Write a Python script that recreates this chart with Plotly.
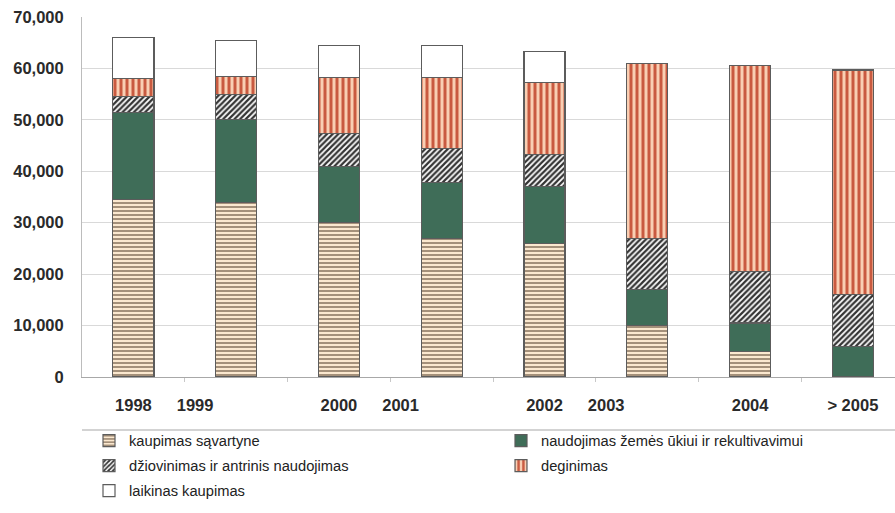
import plotly.graph_objects as go

# Sludge handling volumes per period (stacked components)
periods = ["1998", "1999", "2000", "2001", "2002", "2003", "2004", "> 2005"]
tick_labels = ["1998", "1999", "2000", "2001", "2002", "2003", "2004", "> 2005"]

kaupimas_savartyne = [34500, 34000, 30000, 27000, 26000, 10000, 5000, 0]
naudojimas_zemes_ukiui = [17000, 16000, 11000, 10800, 11000, 7000, 5500, 6000]
dziovinimas = [3000, 5000, 6300, 6700, 6300, 10000, 10000, 10000]
deginimas = [3500, 3500, 11000, 13800, 14000, 34000, 40000, 43700]
laikinas_kaupimas = [8000, 7000, 6200, 6200, 6000, 0, 0, 0]

series_names = [
    "kaupimas sąvartyne",
    "naudojimas žemės ūkiui ir rekultivavimui",
    "džiovinimas ir antrinis naudojimas",
    "deginimas",
    "laikinas kaupimas",
]

FONT = "Liberation Sans, Arial, sans-serif"
OUTLINE = dict(color="#5c5c5c", width=1.2)

x_pos = list(range(len(periods)))

styles = [
    dict(color="#fbe8cf", pattern=dict(shape="-", fgcolor="#8e7a64", bgcolor="#fbe8cf",
                                       size=4, solidity=0.4, fillmode="replace")),
    dict(color="#3f6d58"),
    dict(color="#ffffff", pattern=dict(shape="/", fgcolor="#333333", bgcolor="#ffffff",
                                       size=4, solidity=0.55, fillmode="replace")),
    dict(color="#f9cfb3", pattern=dict(shape="|", fgcolor="#c95a40", bgcolor="#f9cfb3",
                                       size=6, solidity=0.5, fillmode="replace")),
    dict(color="#ffffff"),
]

# one legend box per entry: two columns, three rows
plot_w = 895 - 82
plot_h = 513 - 17 - 136


def row_y(px):
    return -(px - 377) / plot_h


def col_x(px):
    return (px - 82) / plot_w


legend_slots = [(col_x(89), row_y(441)), (col_x(501), row_y(441)),
                (col_x(89), row_y(466)), (col_x(501), row_y(466)),
                (col_x(89), row_y(491))]
legend_ids = ["legend", "legend2", "legend3", "legend4", "legend5"]

fig = go.Figure()
for name, vals, st, lg in zip(series_names,
                              [kaupimas_savartyne, naudojimas_zemes_ukiui, dziovinimas,
                               deginimas, laikinas_kaupimas],
                              styles, legend_ids):
    marker = dict(line=OUTLINE, **st)
    fig.add_trace(go.Bar(x=x_pos, y=vals, name=name, width=0.4, marker=marker,
                         hovertext=periods, legend=lg))

# Year labels sit under the bars, with the in-between years shifted right
tick_pos = [0, 0.6, 2, 2.6, 4, 4.6, 6, 7]

legends = {}
for lg, (lx, ly) in zip(legend_ids, legend_slots):
    legends[lg] = dict(
        orientation="v", x=lx, xanchor="left", y=ly, yanchor="middle",
        font=dict(family=FONT, size=14.7, color="#222222"),
        itemclick=False, itemdoubleclick=False,
        bgcolor="rgba(0,0,0,0)",
    )

fig.update_layout(
    width=895, height=513,
    margin=dict(l=82, r=0, t=17, b=136, autoexpand=False),
    barmode="stack",
    plot_bgcolor="white", paper_bgcolor="white",
    font=dict(family=FONT, color="#222222"),
    showlegend=True,
    xaxis=dict(
        range=[-0.5, 7.41], tickmode="array", tickvals=tick_pos, ticktext=tick_labels,
        showgrid=False, zeroline=False, showline=True, linecolor="#a8a8a8", linewidth=1,
        ticks="", ticklabelstandoff=13,
        tickfont=dict(family=FONT, size=16.5, color="#2a2a2a", weight="bold"),
        minor=dict(tickmode="array", tickvals=[i + 0.5 for i in range(7)],
                   ticks="outside", ticklen=4, tickcolor="#c8c8c8", tickwidth=1),
    ),
    yaxis=dict(
        range=[0, 70000], dtick=10000, tickformat=",",
        showgrid=True, gridcolor="#d9d9d9", gridwidth=1, zeroline=False,
        showline=True, linecolor="#bcbcbc", linewidth=1, ticks="",
        ticklabelstandoff=14,
        tickfont=dict(family=FONT, size=16.5, color="#2a2a2a", weight="bold"),
    ),
    shapes=[dict(type="line", xref="paper", yref="paper", x0=0, x1=1,
                 y0=row_y(430), y1=row_y(430), line=dict(color="#c4c4c4", width=1.5))],
    **legends,
)

fig.write_html("out.html")
